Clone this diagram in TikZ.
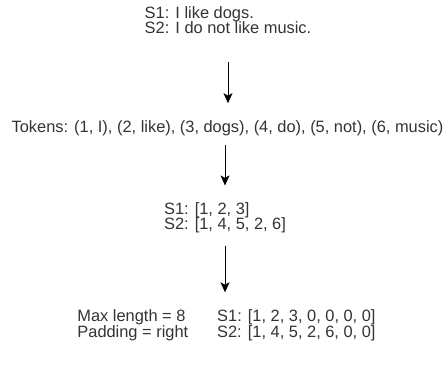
\documentclass[tikz,border=0pt]{standalone}
\usepackage{fontspec}
\setmainfont{Liberation Sans}
\usetikzlibrary{arrows.meta}
\definecolor{txtgray}{HTML}{333333}

\begin{document}
\begin{tikzpicture}[
        x=1pt, y=1pt,
        label/.style={inner sep=0pt, align=left, text=txtgray,
            font=\fontsize{16.4}{15.5}\selectfont},
        flow/.style={-{Stealth[length=10pt, width=9pt, inset=2.5pt]}, line width=0.7pt, black}
    ]
    \useasboundingbox (0,0) rectangle (445,-365);

    % Sentences
    \node[label] (sent) at (228,-20) {S1: I like dogs.\\S2: I do not like music.};

    % Vocabulary
    \node[label] (tokens) at (227.5,-128) {Tokens: (1, I), (2, like), (3, dogs), (4, do), (5, not), (6, music)};

    % Encoded sequences
    \node[label] (ids) at (225,-218) {S1: [1, 2, 3]\\S2: [1, 4, 5, 2, 6]};

    % Padded sequences
    \node[label] (pad) at (226.5,-326) {%
        \begin{tabular}{@{}l@{\hspace{29pt}}l@{}}
            Max length = 8 & S1: [1, 2, 3, 0, 0, 0, 0]\\
            Padding = right & S2: [1, 4, 5, 2, 6, 0, 0]
        \end{tabular}};

    % Steps
    \draw[flow, shorten <=28pt, shorten >=17pt] (sent.south) -- (sent.south |- tokens.north);
    \draw[flow, shorten <=9pt, shorten >=17pt] (tokens.south -| ids.north) -- (ids.north);
    \draw[flow, shorten <=12pt, shorten >=17pt] (ids.south) -- (ids.south |- pad.north);

\end{tikzpicture}
\end{document}
